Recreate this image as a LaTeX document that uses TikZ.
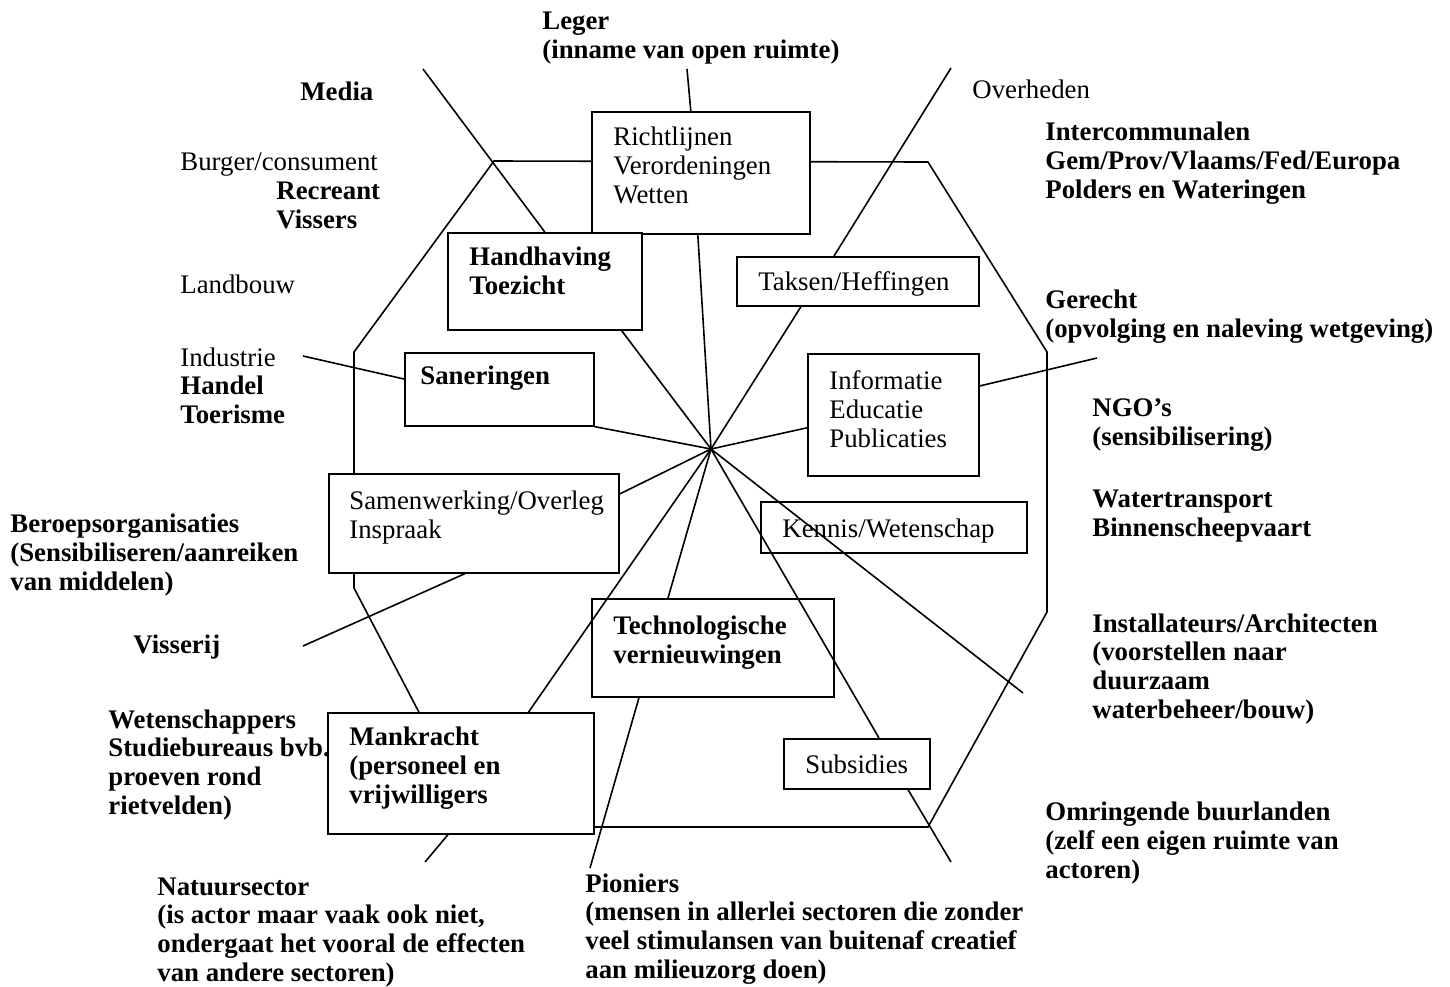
\documentclass[tikz,border=0pt]{standalone}
\usepackage{fontspec}
\setmainfont{Liberation Serif}
\usepackage{tikz}
\newcommand{\lblfont}{\fontsize{13.4}{14.3}\selectfont}
\tikzstyle{kader} = [rectangle, draw=black, fill=white, line width=0.8pt, anchor=north west, inner sep=0pt]
\tikzstyle{actor} = [anchor=base west, align=left, inner sep=0pt, font=\lblfont\bfseries]
\tikzstyle{actorn} = [anchor=base west, align=left, inner sep=0pt, font=\lblfont]
\tikzstyle{link} = [line width=0.8pt]

\begin{document}
\begin{tikzpicture}[x=0.5pt, y=-0.5pt]
\useasboundingbox (0,0) rectangle (1450,986);

% ruimte van de actoren
\draw [link] (494,161) -- (928,162) -- (1047,352) -- (1047,612) -- (928,827) -- (479,827) -- (354,588) -- (354,352) -- cycle;

% instrumenten
\node (richt) [kader, minimum width=109pt, minimum height=61pt] at (591,111) {};
\node (handh) [kader, minimum width=97pt, minimum height=48.5pt] at (447,232) {};
\node (taksen) [kader, minimum width=121pt, minimum height=24.5pt] at (736,256) {};
\node (saner) [kader, minimum width=94.5pt, minimum height=36.5pt] at (404,352) {};
\node (inform) [kader, minimum width=85.5pt, minimum height=61pt] at (807,353) {};
\node (samen) [kader, minimum width=145pt, minimum height=49.5pt] at (328,473) {};
\node (kennis) [kader, minimum width=133pt, minimum height=25.5pt] at (760,501) {};
\node (techn) [kader, minimum width=121pt, minimum height=49pt] at (591,598) {};
\node (mank) [kader, minimum width=133pt, minimum height=60.5pt] at (327,712) {};
\node (subs) [kader, minimum width=73pt, minimum height=25pt] at (783,738) {};

% teksten in de kaders (basislijn van de laatste regel)
\node (richtT) [actorn] at (613,203) {Richtlijnen\\Verordeningen\\Wetten};
\node (handhT) [actor] at (469,294) {Handhaving\\Toezicht};
\node (taksenT) [actorn] at (758,290) {Taksen/Heffingen};
\node (sanerT) [actor] at (420,384) {Saneringen};
\node (informT) [actorn] at (829,447) {Informatie\\Educatie\\Publicaties};
\node (samenT) [actorn] at (349,538) {Samenwerking/Overleg\\Inspraak};
\node (kennisT) [actorn] at (782,537) {Kennis/Wetenschap};
\node (technT) [actor] at (613,663) {Technologische\\vernieuwingen};
\node (mankT) [actor] at (349,803) {Mankracht\\(personeel en\\vrijwilligers};
\node (subsT) [actorn] at (805,773) {Subsidies};

% actoren
\node (leger) [actor] at (542,58) {Leger\\(inname van open ruimte)};
\node (media) [actor] at (300,100) {Media};
\node (overh) [actorn] at (972,98) {Overheden};
\node (burger) [actorn] at (180,170) {Burger/consument};
\node (recr) [actor] at (276,228) {Recreant\\Vissers};
\node (interc) [actor] at (1045,198) {Intercommunalen\\Gem/Prov/Vlaams/Fed/Europa\\Polders en Wateringen};
\node (landb) [actorn] at (180,293) {Landbouw};
\node (gerecht) [actor] at (1045,337) {Gerecht\\(opvolging en naleving wetgeving)};
\node (indus) [actorn] at (180,366) {Industrie};
\node (handel) [actor] at (180,423) {Handel\\Toerisme};
\node (ngo) [actor] at (1092,445) {NGO's\\(sensibilisering)};
\node (beroep) [actor] at (10,590) {Beroepsorganisaties\\(Sensibiliseren/aanreiken\\van middelen)};
\node (water) [actor] at (1092,536) {Watertransport\\Binnenscheepvaart};
\node (visserij) [actor] at (133,653) {Visserij};
\node (install) [actor] at (1092,718) {Installateurs/Architecten\\(voorstellen naar\\duurzaam\\waterbeheer/bouw)};
\node (wetensch) [actor] at (108,814) {Wetenschappers\\Studiebureaus bvb.\\proeven rond\\rietvelden)};
\node (omring) [actor] at (1045,878) {Omringende buurlanden\\(zelf een eigen ruimte van\\actoren)};
\node (natuur) [actor] at (157,981) {Natuursector\\(is actor maar vaak ook niet,\\ondergaat het vooral de effecten\\van andere sectoren)};
\node (pionier) [actor] at (585,978) {Pioniers\\(mensen in allerlei sectoren die zonder\\veel stimulansen van buitenaf creatief\\aan milieuzorg doen)};

% vrije uiteinden
\coordinate (hub) at (711,449);
\coordinate (legerE) at (687,69);
\coordinate (mediaE) at (423,69);
\coordinate (overhE) at (951,68);
\coordinate (gerechtE) at (1097,358);
\coordinate (indusE) at (303,356);
\coordinate (visserijE) at (303,646);
\coordinate (natuurE) at (425,862);
\coordinate (pionierE) at (590,868);
\coordinate (omringE) at (951,862);
\coordinate (installE) at (1023,693);

\draw [link] (legerE) -- ([xshift=-5pt]richt.north);
\draw [link] (mediaE) -- (handh.north);
\draw [link] (overhE) -- ([xshift=49pt]taksen.north west);
\draw [link] ([yshift=-16.5pt]inform.north east) -- (gerechtE);
\draw [link] (indusE) -- ([yshift=-13.5pt]saner.north west);
\draw [link] ([xshift=68.5pt]samen.south west) -- (visserijE);
\draw [link] ([xshift=60.5pt]mank.south west) -- (natuurE);
\draw [link] ([xshift=24pt]techn.south west) -- (pionierE);
\draw [link] ([xshift=62.5pt]subs.south west) -- (omringE);

% spaken
\draw [link] (hub) -- (saner.south east);
\draw [link] (hub) -- ([xshift=-10.5pt]handh.south east);
\draw [link] (hub) -- ([xshift=-1.5pt]richt.south);
\draw [link] (hub) -- ([xshift=32.5pt]taksen.south west);
\draw [link] (hub) -- ([yshift=-6.5pt]inform.west);
\draw [link] (hub) -- ([yshift=-10.5pt]samen.north east);
\draw [link] (hub) -- ([xshift=-33pt]mank.north east);
\draw [link] (hub) -- ([xshift=38.5pt]techn.north west);
\draw [link] (hub) -- ([xshift=48pt]subs.north west);
\draw [link] (hub) -- (installE);

\end{tikzpicture}
\end{document}
